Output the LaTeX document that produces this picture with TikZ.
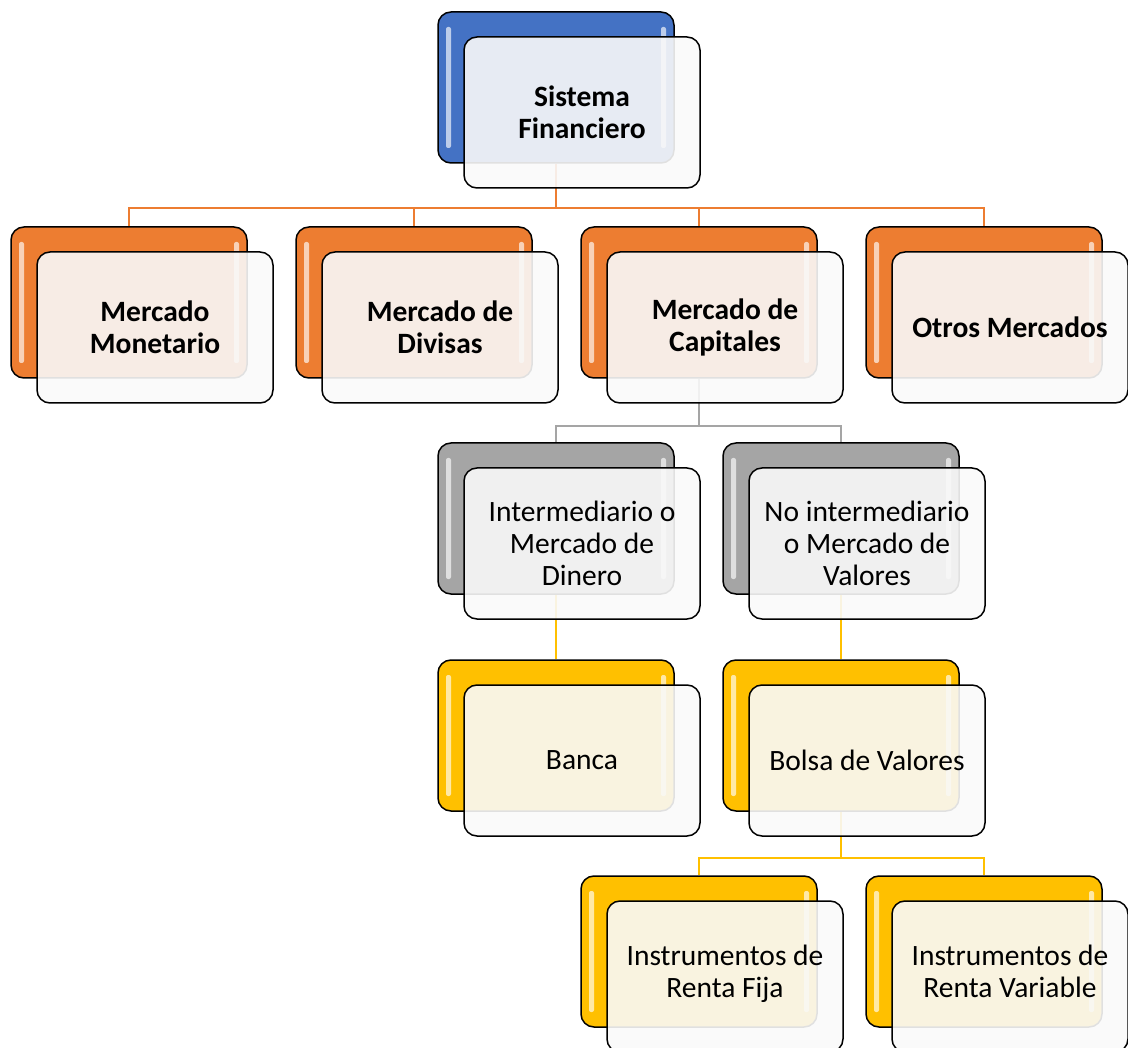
\documentclass[tikz,border=0pt]{standalone}
\usepackage{fontspec}
\setmainfont{Carlito}
\usetikzlibrary{backgrounds}
\definecolor{sfblue}{HTML}{4472C4}
\definecolor{mkorange}{HTML}{ED7D31}
\definecolor{capgray}{HTML}{A5A5A5}
\definecolor{valgold}{HTML}{FFC000}
\definecolor{frontwhite}{HTML}{F9F9F9}

\tikzset{
  backbox/.style={draw=black,line width=1.5pt,rounded corners=13pt,fill=#1,
    minimum width=236pt,minimum height=151pt,
    path picture={
      \fill[white,opacity=0.65,rounded corners=2pt]
        ([xshift=8pt,yshift=-15pt]path picture bounding box.north west) rectangle
        ([xshift=13pt,yshift=15pt]path picture bounding box.south west);
      \fill[white,opacity=0.65,rounded corners=2pt]
        ([xshift=-13pt,yshift=-15pt]path picture bounding box.north east) rectangle
        ([xshift=-8pt,yshift=15pt]path picture bounding box.south east);
    }},
  frontbox/.style={draw=black,line width=1.5pt,rounded corners=13pt,
    fill=frontwhite,fill opacity=0.9,text opacity=1,align=center,inner sep=1pt,
    minimum width=236pt,minimum height=151pt,font=\fontsize{29.5}{32}\selectfont},
  boldfront/.style={frontbox,font=\fontsize{29.5}{32}\selectfont\bfseries},
  link/.style={line width=2.2pt,draw=#1},
}

\begin{document}
\begin{tikzpicture}[x=1pt,y=-1pt]
\useasboundingbox (0,0) rectangle (1128,1048);

% nivel 1
\node[backbox=sfblue] (sf-b) at (556,87.5) {};
\node[boldfront] (sf) at ([shift={(26,25)}]sf-b.center) {Sistema\\Financiero};

% nivel 2: mercados
\node[backbox=mkorange] (mon-b) at (129,302.5) {};
\node[boldfront] (mon) at ([shift={(26,25)}]mon-b.center) {Mercado\\Monetario};
\node[backbox=mkorange] (div-b) at (414,302.5) {};
\node[boldfront] (div) at ([shift={(26,25)}]div-b.center) {Mercado de\\Divisas};
\node[backbox=mkorange] (cap-b) at (699,302.5) {};
\node[boldfront] (cap) at ([shift={(26,25)}]cap-b.center) {Mercado de\\Capitales};
\node[backbox=mkorange] (otr-b) at (984,302.5) {};
\node[boldfront] (otr) at ([shift={(26,25)}]otr-b.center) {Otros Mercados};

% nivel 3
\node[backbox=capgray] (int-b) at (556,518.5) {};
\node[frontbox] (int) at ([shift={(26,25)}]int-b.center) {Intermediario o\\Mercado de\\Dinero};
\node[backbox=capgray] (noint-b) at (841,518.5) {};
\node[frontbox] (noint) at ([shift={(26,25)}]noint-b.center) {No intermediario\\o Mercado de\\Valores};

% nivel 4
\node[backbox=valgold] (ban-b) at (556,735.5) {};
\node[frontbox] (ban) at ([shift={(26,25)}]ban-b.center) {Banca};
\node[backbox=valgold] (bol-b) at (841,735.5) {};
\node[frontbox] (bol) at ([shift={(26,25)}]bol-b.center) {Bolsa de Valores};

% nivel 5
\node[backbox=valgold] (fija-b) at (699,951.5) {};
\node[frontbox] (fija) at ([shift={(26,25)}]fija-b.center) {Instrumentos de\\Renta Fija\strut};
\node[backbox=valgold] (var-b) at (984,951.5) {};
\node[frontbox] (var) at ([shift={(26,25)}]var-b.center) {Instrumentos de\\Renta Variable\strut};

% conectores
\begin{pgfonlayer}{background}
\foreach \hijo in {mon-b,div-b,cap-b,otr-b}
  \draw[link=mkorange] (sf-b.south) -- ++(0,44) -| (\hijo.north);
\foreach \hijo in {int-b,noint-b}
  \draw[link=capgray] (cap-b.south) -- ++(0,47) -| (\hijo.north);
\draw[link=valgold] (int-b.south) -- (ban-b.north);
\draw[link=valgold] (noint-b.south) -- (bol-b.north);
\foreach \hijo in {fija-b,var-b}
  \draw[link=valgold] (bol-b.south) -- ++(0,46) -| (\hijo.north);
\end{pgfonlayer}
\end{tikzpicture}
\end{document}
